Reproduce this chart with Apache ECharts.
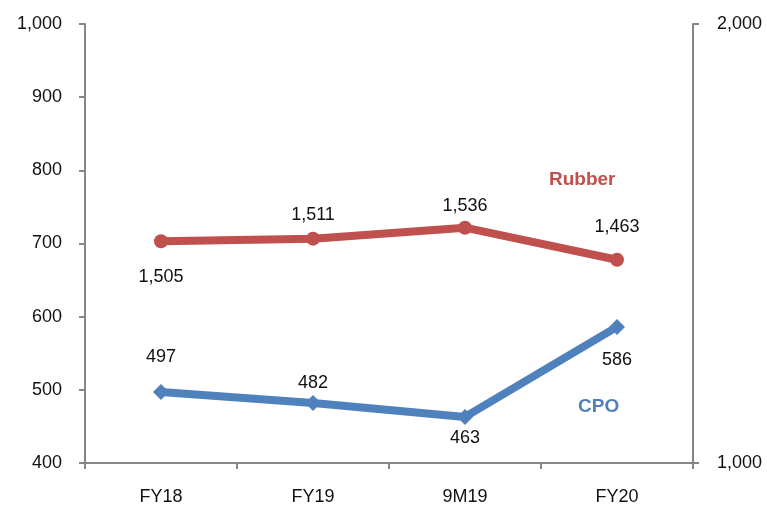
<!DOCTYPE html>
<html>
<head>
<meta charset="utf-8">
<script src="https://cdn.jsdelivr.net/npm/echarts@6/dist/echarts.min.js"></script>
<style>
  html, body { margin: 0; padding: 0; background: #fff; }
  #chart { width: 767px; height: 508px; }
</style>
</head>
<body>
<div id="chart"></div>
<script>
const categories = ['FY18', 'FY19', '9M19', 'FY20'];
const cpoValues = [497, 482, 463, 586];
const rubberValues = [1505, 1511, 1536, 1463];
const cpoLabelPos = ['top', 'top', 'bottom', 'bottom'];
const rubberLabelPos = ['bottom', 'top', 'top', 'top'];
const cpoLabelGap = [18, 3, 4, 16];
const rubberLabelGap = [20, 8, 6, 17];

const FONT = '"Liberation Sans", Arial, sans-serif';
const axisColor = '#868686';
const red = '#c0504d';
const blue = '#4f81bd';

const chart = echarts.init(document.getElementById('chart'));

const fmt = v => v.toLocaleString('en-US');

const labelStyle = {
  show: true, color: '#111', fontSize: 18, fontFamily: FONT,
  formatter: p => fmt(p.value)
};

const option = {
  backgroundColor: '#fff',
  animation: false,
  grid: { left: 85, right: 74, top: 24, bottom: 45 },
  xAxis: {
    type: 'category',
    data: categories,
    boundaryGap: true,
    axisLine: { lineStyle: { color: axisColor, width: 2 } },
    axisTick: { show: true, length: 6, lineStyle: { color: axisColor, width: 2 } },
    axisLabel: { color: '#111', fontSize: 18, fontFamily: FONT, margin: 25 }
  },
  yAxis: [
    {
      type: 'value',
      min: 400, max: 1000, interval: 100,
      axisLine: { show: true, lineStyle: { color: axisColor, width: 2 } },
      axisTick: { show: true, length: 6, lineStyle: { color: axisColor, width: 2 } },
      splitLine: { show: false },
      axisLabel: { color: '#111', fontSize: 18, fontFamily: FONT, margin: 23, formatter: fmt }
    },
    {
      type: 'value',
      position: 'right',
      min: 1000, max: 2000, interval: 1000,
      axisLine: { show: true, lineStyle: { color: axisColor, width: 2 } },
      axisTick: { show: true, length: 6, lineStyle: { color: axisColor, width: 2 } },
      splitLine: { show: false },
      axisLabel: { color: '#111', fontSize: 18, fontFamily: FONT, margin: 24, formatter: fmt }
    }
  ],
  series: [
    {
      name: 'Rubber',
      type: 'line',
      yAxisIndex: 1,
      data: rubberValues.map((v, i) => ({
        value: v,
        label: { position: rubberLabelPos[i], distance: rubberLabelGap[i] }
      })),
      symbol: 'circle',
      symbolSize: 14,
      lineStyle: { color: red, width: 8 },
      itemStyle: { color: red },
      label: labelStyle
    },
    {
      name: 'CPO',
      type: 'line',
      yAxisIndex: 0,
      data: cpoValues.map((v, i) => ({
        value: v,
        label: { position: cpoLabelPos[i], distance: cpoLabelGap[i] }
      })),
      symbol: 'diamond',
      symbolSize: 16,
      lineStyle: { color: blue, width: 8 },
      itemStyle: { color: blue },
      label: labelStyle
    }
  ],
  graphic: [
    {
      type: 'text', left: 549, top: 170,
      style: { text: 'Rubber', fill: red, font: 'bold 19px ' + FONT }
    },
    {
      type: 'text', left: 578, top: 397,
      style: { text: 'CPO', fill: blue, font: 'bold 19px ' + FONT }
    }
  ]
};

chart.setOption(option);
</script>
</body>
</html>
